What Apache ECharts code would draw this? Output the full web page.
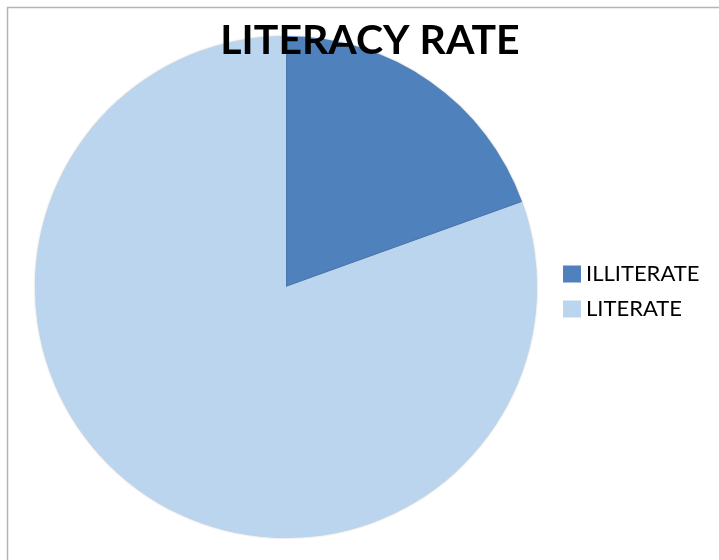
<!DOCTYPE html>
<html>
<head>
<meta charset="utf-8">
<script src="https://cdn.jsdelivr.net/npm/echarts@6/dist/echarts.min.js"></script>
<style>
  html, body { margin: 0; padding: 0; background: #ffffff; }
  #chart { width: 719px; height: 560px; }
</style>
</head>
<body>
<div id="chart"></div>
<script>
// Literacy split, in percent
const categories = ['ILLITERATE', 'LITERATE'];
const shares = [19.5, 80.5];
const sliceColors = ['#4F81BD', '#BBD5EE'];

const chart = echarts.init(document.getElementById('chart'), null, { renderer: 'canvas' });

chart.setOption({
  animation: false,
  backgroundColor: '#ffffff',
  graphic: [{
    type: 'rect',
    shape: { x: 7.5, y: 7.5, width: 800, height: 700 },
    style: { fill: 'none', stroke: '#b4b4b4', lineWidth: 1.5 },
    silent: true,
    z: 0
  }],
  title: {
    text: 'LITERACY RATE',
    left: 365,
    textAlign: 'center',
    top: 15,
    textStyle: {
      fontFamily: 'Lato',
      fontWeight: 'bold',
      fontSize: 41,
      color: '#000000'
    }
  },
  legend: {
    orient: 'vertical',
    left: 563,
    top: 263,
    padding: 0,
    icon: 'rect',
    itemWidth: 18,
    itemHeight: 17,
    itemGap: 13,
    data: categories,
    textStyle: { fontFamily: 'Lato', fontSize: 22, lineHeight: 17, color: '#000000' }
  },
  series: [{
    type: 'pie',
    center: [286, 287],
    radius: 251,
    startAngle: 90,
    clockwise: true,
    label: { show: false },
    labelLine: { show: false },
    emphasis: { disabled: true },
    itemStyle: {
      shadowBlur: 2,
      shadowColor: 'rgba(0,0,0,0.25)'
    },
    data: categories.map((name, i) => ({
      name: name,
      value: shares[i],
      itemStyle: { color: sliceColors[i] }
    }))
  }]
});
</script>
</body>
</html>
